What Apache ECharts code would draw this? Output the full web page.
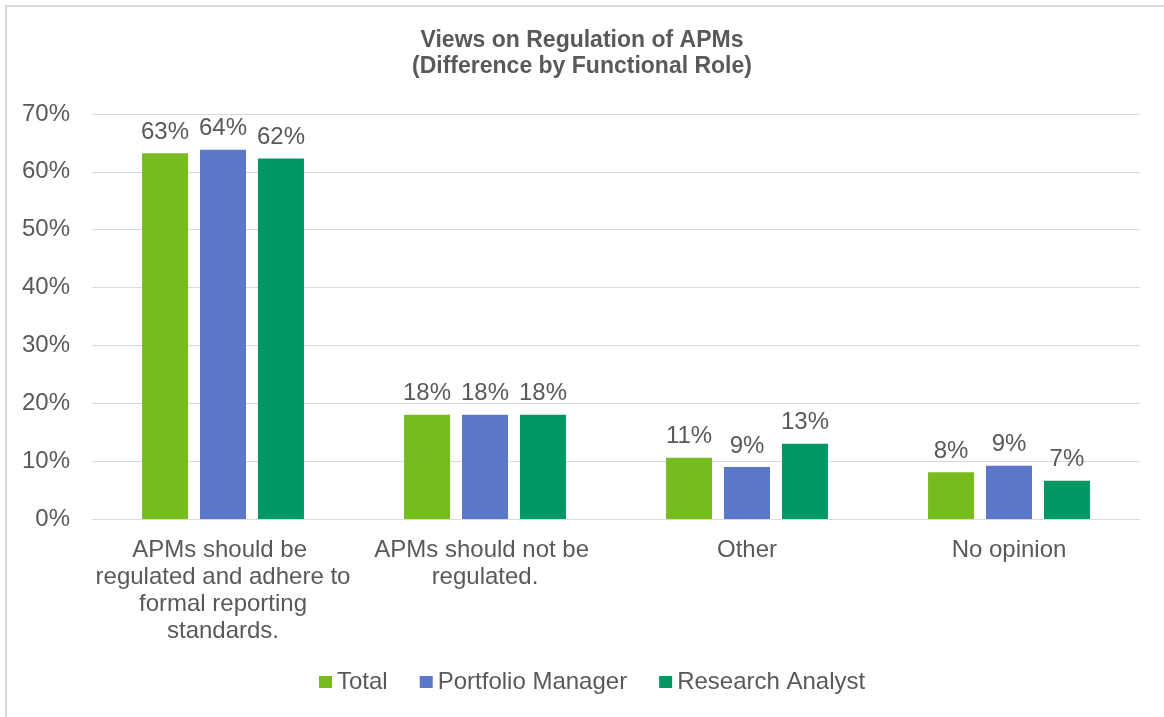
<!DOCTYPE html>
<html>
<head>
<meta charset="utf-8">
<script src="https://cdn.jsdelivr.net/npm/echarts@6/dist/echarts.min.js"></script>
<style>
  html, body { margin: 0; padding: 0; background: #fff; }
  #chart { width: 1164px; height: 717px; }
  #frame { position: absolute; left: 5px; top: 5px; width: 1200px; height: 760px; border: 1px solid #D9D9D9; border-width: 2px 0 0 2px; pointer-events: none; }
</style>
</head>
<body>
<div id="chart"></div>
<div id="frame"></div>
<script>
// categories and values (percent)
const categories = [
  'APMs should be regulated and adhere to formal reporting standards.',
  'APMs should not be regulated.',
  'Other',
  'No opinion'
];
const seriesNames = ['Total', 'Portfolio Manager', 'Research Analyst'];
const totalValues = [63.2, 18.0, 10.6, 8.1];
const pmValues = [63.8, 18.0, 9.0, 9.2];
const raValues = [62.3, 18.0, 13.0, 6.6];
const colors = ['#77BC1F', '#5B77C9', '#009763'];

const textColor = '#595959';
const font = 'Arial, "Liberation Sans", sans-serif';

function makeSeries(name, data, color) {
  return {
    name: name,
    type: 'bar',
    data: data,
    barWidth: 46,
    barGap: '26%',
    itemStyle: { color: color },
    label: {
      show: true,
      position: 'top',
      distance: 9,
      color: textColor,
      fontSize: 24,
      fontFamily: font,
      formatter: p => Math.round(p.value) + '%'
    }
  };
}

const chart = echarts.init(document.getElementById('chart'));
chart.setOption({
  animation: false,
  title: {
    text: 'Views on Regulation of APMs\n(Difference by Functional Role)',
    left: 'center',
    top: 23,
    textStyle: {
      color: textColor,
      fontSize: 23,
      fontWeight: 'bold',
      fontFamily: font,
      lineHeight: 26
    }
  },
  legend: {
    data: seriesNames,
    bottom: 18,
    left: 314,
    itemWidth: 13,
    itemHeight: 12,
    itemGap: 32,
    icon: 'rect',
    textStyle: { color: textColor, fontSize: 24, fontFamily: font }
  },
  grid: { left: 92, right: 24, top: 114, bottom: 198 },
  xAxis: {
    type: 'category',
    data: categories,
    axisLine: { lineStyle: { color: '#D9D9D9', width: 1 } },
    axisTick: { show: false },
    axisLabel: {
      color: textColor,
      fontSize: 24,
      fontFamily: font,
      lineHeight: 27,
      margin: 18,
      width: 260,
      overflow: 'break',
      interval: 0
    }
  },
  yAxis: {
    type: 'value',
    min: 0,
    max: 70,
    interval: 10,
    axisLine: { show: false },
    axisTick: { show: false },
    splitLine: { lineStyle: { color: '#D9D9D9', width: 1 } },
    axisLabel: {
      color: textColor,
      fontSize: 24,
      fontFamily: font,
      margin: 22,
      formatter: '{value}%'
    }
  },
  series: [
    makeSeries(seriesNames[0], totalValues, colors[0]),
    makeSeries(seriesNames[1], pmValues, colors[1]),
    makeSeries(seriesNames[2], raValues, colors[2])
  ]
});
</script>
</body>
</html>
